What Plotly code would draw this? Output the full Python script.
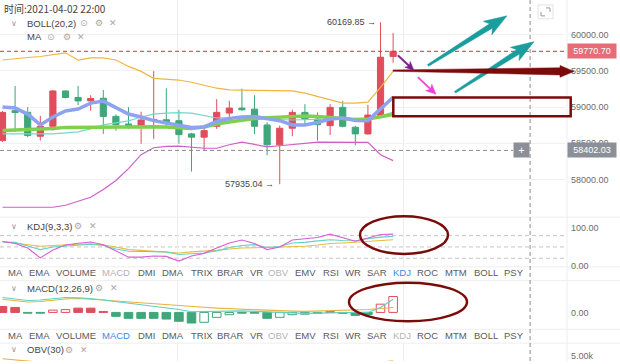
import plotly.graph_objects as go

W, H = 620, 364
PLOT_W = 565

# ---------------- data ----------------
idx = list(range(32))
open_ = [58538, 58950, 58927, 58598, 58735, 59223, 59133, 59086, 59123, 58872,
         58767, 58730, 58815, 58826, 58812, 58630, 58585, 58735, 58918, 58986,
         58972, 58753, 58479, 58708, 58927, 58835, 58744, 58996, 58722, 58630,
         58881, 59700]
high = [58945, 59292, 59000, 58881, 59235, 59230, 59292, 59164, 59237, 58900,
        59000, 58936, 59497, 59260, 58963, 58645, 58722, 59110, 59086, 59256,
        59164, 58790, 58744, 58963, 59041, 58927, 59041, 59086, 58740, 59031,
        60169.85, 60023]
low = [58520, 58657, 58585, 58538, 58675, 59120, 59027, 58949, 58630, 58675,
       58700, 58493, 58561, 58722, 58493, 58109, 58401, 58699, 58790, 58949,
       58630, 58333, 57935.04, 58598, 58744, 58538, 58616, 58720, 58470, 58620,
       58870, 59612]
close = [58927, 58925, 58607, 58735, 59223, 59133, 59086, 59119, 58872, 58757,
         58730, 58822, 58828, 58790, 58620, 58585, 58675, 58927, 58986, 58963,
         58735, 58479, 58708, 58927, 58835, 58757, 58996, 58735, 58630, 58890,
         59689, 59770.70]

boll_up = [59651, 59672, 59685, 59699, 59726, 59750, 59648, 59681, 59681, 59651,
           59562, 59494, 59398, 59384, 59374, 59343, 59302, 59261, 59237, 59233,
           59233, 59226, 59226, 59224, 59192, 59144, 59103, 59055, 59055, 59069,
           59274, 59494]
boll_mid = [58630, 58630, 58630, 58630, 58630, 58644, 58658, 58699, 58754, 58781,
            58809, 58863, 58904, 58918, 58925, 58918, 58884, 58850, 58850, 58857,
            58850, 58836, 58829, 58822, 58829, 58836, 58836, 58836, 58829, 58829,
            58877, 58932]
boll_low = [57617, 57617, 57617, 57617, 57617, 57644, 57699, 57754, 57863, 57987,
            58151, 58343, 58439, 58459, 58462, 58448, 58432, 58432, 58480, 58517,
            58487, 58452, 58466, 58487, 58500, 58517, 58517, 58517, 58517, 58514,
            58343, 58261]
ma_fast = [59000, 58987, 58904, 58754, 58863, 58946, 58973, 59055, 59083, 59000,
           58904, 58863, 58813, 58781, 58754, 58720, 58726, 58802, 58843, 58863,
           58870, 58843, 58813, 58754, 58754, 58788, 58836, 58850, 58816, 58813,
           58973, 59137]
ma_slow = [58678, 58685, 58692, 58692, 58706, 58720, 58722, 58726, 58733, 58733,
           58733, 58733, 58729, 58726, 58720, 58706, 58726, 58767, 58795, 58822,
           58843, 58854, 58863, 58877, 58877, 58870, 58859, 58843, 58829, 58836,
           58863, 58898]

kdj_k = [63, 62, 52.6, 43, 50, 52, 54, 57, 54, 44.7, 38.7, 38.7, 38.7, 36.8, 30, 33,
         34, 39.5, 48.7, 54, 56, 48.7, 51, 60.5, 62, 66, 69, 67, 66.6, 72, 76, 78]
kdj_d = [64.5, 60.5, 56.6, 52, 54, 56, 57, 58, 55, 50, 43, 41, 38, 35.5, 34, 36.8,
         38.7, 41, 44.7, 47.4, 48, 48.7, 49, 50.5, 52, 55, 59, 60.5, 63, 64.5, 67, 69]
kdj_j = [64.5, 59, 47, 21, 42, 55, 60, 63, 56, 39.5, 23, 23, 26, 25, 12.4, 26,
         33, 47, 60.5, 68.4, 59, 43, 50, 68.4, 71, 75, 84, 73.7, 65, 73.7, 83, 84]

macd_hist = [60, 50, -8, -8, 23, 28, 43, 43, 8, -40, -60, -60, -60, -67, -90, -107,
             -100, -50, -23, -8, -8, -60, -50, -23, -18, -8, 7, -10, -30, -20, 83, 160]
macd_filled = [1, 1, 1, 1, 0, 0, 1, 1, 1, 1, 1, 1, 1, 1, 1, 1,
               0, 0, 0, 1, 1, 1, 0, 0, 0, 1, 1, 1, 1, 1, 0, 0]
macd_dif = [150, 135, 120, 125, 140, 150, 147, 140, 125, 110, 95, 80, 65, 50, 30, 7,
            10, 15, 17, 15, 10, 7, 0, -5, -10, -10, -5, -2, 0, 0, 50, 133]
macd_dea = [133, 120, 105, 110, 125, 135, 140, 135, 125, 115, 105, 100, 90, 80, 70, 60,
            52, 43, 37, 32, 27, 22, 17, 13, 10, 13, 15, 17, 20, 30, 40, 50]

obv = [3650, 3150, 2450, 1900, 2200, 2000, 1800, 1900, 1500, 1300, 1200, 1400, 1300,
       1100, 900, 700, 900, 1300, 1500, 1400, 1200, 900, 1100, 1400, 1300, 1200, 1400,
       1200, 1000, 1300, 1900, 2600]

price_ticks = [58000, 58500, 59000, 59500, 60000]
last_price = 59770.70
cross_price = 58402.03
cross_idx = 41.87
grid_idx = [13.85, 31.79]
high_idx, low_idx = 30, 22

tabs = ["MA", "EMA", "VOLUME", "MACD", "DMI", "DMA", "TRIX", "BRAR", "VR", "OBV",
        "EMV", "RSI", "WR", "SAR", "KDJ", "ROC", "MTM", "BOLL", "PSY"]
tab_x = [15, 39.5, 76, 116, 146.5, 173, 201.5, 230.5, 256.5, 278.5,
         305, 331, 352.5, 376.5, 401.5, 427.5, 456, 486, 513.5]

# ---------------- colours ----------------
RED = "#e04d5c"
GREEN = "#3fa77a"
MAROON = "#7b0b0b"
TEAL_ARROW = "#1a9d9d"
FONT = "Liberation Sans, Arial, sans-serif"


def P(x, y):
    return x / PLOT_W, 1 - y / H


fig = go.Figure()

# price pane
fig.add_trace(go.Candlestick(
    x=idx, open=open_, high=high, low=low, close=close,
    increasing=dict(line=dict(color=RED, width=1), fillcolor=RED),
    decreasing=dict(line=dict(color=GREEN, width=1), fillcolor=GREEN),
    whiskerwidth=0, xaxis="x", yaxis="y", showlegend=False, hoverinfo="skip"))
for ys, col, w in [(boll_up, "#f0b540", 1.2), (boll_low, "#d25ec8", 1.2),
                   (boll_mid, "#72d8cb", 1.2), (ma_slow, "#7fd04c", 3.5),
                   (ma_fast, "#8ea3ef", 3.5)]:
    fig.add_trace(go.Scatter(x=idx, y=ys, mode="lines", line=dict(color=col, width=w),
                             xaxis="x", yaxis="y", showlegend=False, hoverinfo="skip"))

# KDJ pane
for ys, col in [(kdj_d, "#e9bb3e"), (kdj_k, "#62d3c6"), (kdj_j, "#d95fd3")]:
    fig.add_trace(go.Scatter(x=idx, y=ys, mode="lines", line=dict(color=col, width=1.1),
                             xaxis="x2", yaxis="y2", showlegend=False, hoverinfo="skip"))

# MACD pane
bar_line = [RED if v >= 0 else GREEN for v in macd_hist]
bar_fill = [(RED if v >= 0 else GREEN) if f else "rgba(255,255,255,1)"
            for v, f in zip(macd_hist, macd_filled)]
fig.add_trace(go.Bar(x=idx, y=macd_hist, width=0.68,
                     marker=dict(color=bar_fill, line=dict(color=bar_line, width=1)),
                     xaxis="x3", yaxis="y3", showlegend=False, hoverinfo="skip"))
fig.add_trace(go.Scatter(x=idx, y=macd_dea, mode="lines", line=dict(color="#eab13c", width=1.1),
                         xaxis="x3", yaxis="y3", showlegend=False, hoverinfo="skip"))
fig.add_trace(go.Scatter(x=idx, y=macd_dif, mode="lines", line=dict(color="#5fd0c4", width=1.1),
                         xaxis="x3", yaxis="y3", showlegend=False, hoverinfo="skip"))

# OBV pane
fig.add_trace(go.Scatter(x=idx, y=obv, mode="lines", line=dict(color="#eab13c", width=1.1),
                         xaxis="x4", yaxis="y4", showlegend=False, hoverinfo="skip"))

# ---------------- axes ----------------
x0, x1 = -0.198, 44.64
xcommon = dict(range=[x0, x1], showticklabels=False, tickvals=grid_idx, showgrid=True,
               gridcolor="#ededed", gridwidth=1, zeroline=False, showline=False,
               ticks="", fixedrange=True)
ycommon = dict(side="right", showline=False, zeroline=False, ticks="",
               tickfont=dict(family=FONT, size=9, color="#6b6b6b"),
               ticklabelstandoff=5, fixedrange=True)

layout_axes = dict(
    xaxis=dict(**xcommon, domain=[0, 1], anchor="y", rangeslider=dict(visible=False)),
    xaxis2=dict(**xcommon, domain=[0, 1], anchor="y2", matches="x"),
    xaxis3=dict(**xcommon, domain=[0, 1], anchor="y3", matches="x"),
    xaxis4=dict(**xcommon, domain=[0, 1], anchor="y4", matches="x"),
    yaxis=dict(**ycommon, domain=[1 - 219 / H, 1], range=[57479.4, 60479.5],
               tickvals=price_ticks, ticktext=[f"{v:.2f}" for v in price_ticks],
               showgrid=True, gridcolor="#f1f1f1", anchor="x"),
    yaxis2=dict(**ycommon, domain=[1 - 270 / H, 1 - 219 / H], range=[-5.26, 128.9],
                tickvals=[0, 100], ticktext=["0.00", "100.00"], showgrid=False, anchor="x2"),
    yaxis3=dict(**ycommon, domain=[1 - 332 / H, 1 - 283 / H], range=[-170, 320],
                tickvals=[0], ticktext=["0.00"], showgrid=False, anchor="x3"),
    yaxis4=dict(**ycommon, domain=[0, 1 - 346 / H], range=[2500, 11500],
                tickvals=[5000], ticktext=["5.00k"], showgrid=False, anchor="x4"),
)

shapes = []
annotations = []

# separators
for yy in [219, 269, 283, 332, 346]:
    a = P(0, yy)
    shapes.append(dict(type="line", xref="paper", yref="paper", x0=0, x1=W / PLOT_W,
                       y0=a[1], y1=a[1], line=dict(color="#eeeeee", width=1), layer="below"))
shapes.append(dict(type="line", xref="paper", yref="paper", x0=567 / PLOT_W, x1=567 / PLOT_W,
                   y0=0, y1=1, line=dict(color="#eeeeee", width=1), layer="below"))

# KDJ dashed levels
for lv in [20, 50, 80]:
    shapes.append(dict(type="line", xref="paper", yref="y2", x0=0, x1=567 / PLOT_W, y0=lv, y1=lv,
                       line=dict(color="#c4c4c4", width=1, dash="4px,3px"), layer="below"))

# last price line
shapes.append(dict(type="line", xref="paper", yref="y", x0=0, x1=1, y0=last_price, y1=last_price,
                   line=dict(color="#c23a3a", width=1, dash="4px,3px")))
# crosshair
shapes.append(dict(type="line", xref="paper", yref="y", x0=0, x1=513 / PLOT_W,
                   y0=cross_price, y1=cross_price,
                   line=dict(color="#8a8a8a", width=1, dash="4px,3px")))
shapes.append(dict(type="line", xref="x", yref="paper", x0=cross_idx, x1=cross_idx, y0=0, y1=1,
                   line=dict(color="#8a8a8a", width=1, dash="4px,3px")))


def poly(points, color):
    pts = [P(x, y) for x, y in points]
    d = "M " + " L ".join(f"{a:.5f},{b:.5f}" for a, b in pts) + " Z"
    return dict(type="path", xref="paper", yref="paper", path=d,
                fillcolor=color, line=dict(color=color, width=0.5))


def arrow(tail, tip, w_tail, w_neck, head_len, head_half, barb, color):
    dx, dy = tip[0] - tail[0], tip[1] - tail[1]
    L = (dx * dx + dy * dy) ** 0.5
    ux, uy = dx / L, dy / L
    nx, ny = -uy, ux
    nkx, nky = tip[0] - ux * head_len, tip[1] - uy * head_len
    bx, by = nkx - ux * barb, nky - uy * barb
    pts = [
        (tail[0] + nx * w_tail, tail[1] + ny * w_tail),
        (nkx + nx * w_neck, nky + ny * w_neck),
        (bx + nx * head_half, by + ny * head_half),
        tip,
        (bx - nx * head_half, by - ny * head_half),
        (nkx - nx * w_neck, nky - ny * w_neck),
        (tail[0] - nx * w_tail, tail[1] - ny * w_tail),
    ]
    return poly(pts, color)


shapes.append(arrow((428, 66), (507, 16), 1.0, 2.6, 19, 8, 4, TEAL_ARROW))
shapes.append(arrow((455, 93), (534, 42), 1.0, 2.6, 19, 8, 4, TEAL_ARROW))
shapes.append(arrow((393, 71.2), (574, 72), 0.7, 3.6, 14, 6, 0, MAROON))
shapes.append(arrow((398, 56), (414, 71), 0.8, 0.8, 7, 4, 2, "#7d1a8c"))
shapes.append(arrow((418, 78), (436, 95), 0.7, 0.7, 8, 4.5, 2, "#f23fdc"))

r0, r1 = P(393.3, 98.3), P(570.7, 117.3)
shapes.append(dict(type="rect", xref="paper", yref="paper", x0=r0[0], x1=r1[0], y0=r1[1], y1=r0[1],
                   line=dict(color=MAROON, width=2.5)))
for (ex0, ey0, ex1, ey1) in [(360, 218, 448, 256), (349, 285, 467, 324)]:
    a, b = P(ex0, ey0), P(ex1, ey1)
    shapes.append(dict(type="circle", xref="paper", yref="paper", x0=a[0], x1=b[0], y0=b[1], y1=a[1],
                       line=dict(color=MAROON, width=2.5)))

# expand icon
a, b = P(538, 5), P(553, 19)
shapes.append(dict(type="rect", xref="paper", yref="paper", x0=a[0], x1=b[0], y0=b[1], y1=a[1],
                   line=dict(color="#e2e2e2", width=1), fillcolor="white"))
for pts in [[(546, 8), (550, 8), (550, 12)], [(541, 12), (541, 16), (545, 16)]]:
    q = [P(x, y) for x, y in pts]
    d = "M " + " L ".join(f"{x:.5f},{y:.5f}" for x, y in q)
    shapes.append(dict(type="path", xref="paper", yref="paper", path=d,
                       line=dict(color="#9a9a9a", width=1)))


def txt(x, y, s, size=9, color="#555555", anchor="left", family=FONT, **kw):
    px_, py_ = P(x, y)
    annotations.append(dict(x=px_, y=py_, xref="paper", yref="paper", text=s, showarrow=False,
                            xanchor=anchor, yanchor="middle",
                            font=dict(family=family, size=size, color=color), **kw))


# header texts
txt(2, 8.5, "时间:2021-04-02 22:00", size=10, color="#444444",
    family="Noto Sans CJK SC, sans-serif")
for (yy, label, icons) in [(23.5, "BOLL(20,2)", [(84, "⊙"), (99, "⚙"), (113, "✕")]),
                           (228, "KDJ(9,3,3)", [(78, "⚙"), (93, "✕")]),
                           (290.5, "MACD(12,26,9)", [(99, "⚙"), (114, "✕")]),
                           (352.5, "OBV(30)", [(69, "⚙"), (84, "✕")])]:
    txt(14, yy, "∨", size=8, color="#999999", anchor="center")
    txt(25, yy, label, size=9.5, color="#444444")
    for ix, ic in icons:
        txt(ix, yy, ic, size=9, color="#a8a8a8", anchor="center",
            family="DejaVu Sans, sans-serif")
txt(25, 37, "MA", size=9.5, color="#444444")
for ix, ic in [(51, "⊙"), (67, "⚙"), (81, "✕")]:
    txt(ix, 37, ic, size=9, color="#a8a8a8", anchor="center", family="DejaVu Sans, sans-serif")

# tab rows
for row_y, active, dim in [(275, "KDJ", ["MACD", "OBV"]), (338, "MACD", ["OBV", "KDJ"])]:
    for t, tx in zip(tabs, tab_x):
        col = "#3d8ae0" if t == active else ("#b4b4b4" if t in dim else "#5a5a5a")
        txt(tx, row_y, t, size=9.5, color=col, anchor="center")

# high / low labels
annotations.append(dict(x=high_idx, y=high[high_idx], xref="x", yref="y", text=f"{high[high_idx]:.2f} →",
                        showarrow=False, xanchor="right", yanchor="middle", xshift=-3,
                        font=dict(family=FONT, size=9, color="#444444")))
annotations.append(dict(x=low_idx, y=low[low_idx], xref="x", yref="y", text=f"{low[low_idx]:.2f} →",
                        showarrow=False, xanchor="right", yanchor="middle", xshift=-4,
                        font=dict(family=FONT, size=9, color="#444444")))

# price tags on axis
annotations.append(dict(x=567 / PLOT_W, y=last_price, xref="paper", yref="y", text=f"{last_price:.2f}",
                        showarrow=False, xanchor="left", yanchor="middle", bgcolor="#e46d77",
                        width=46, height=12, borderpad=1,
                        font=dict(family=FONT, size=9, color="#ffffff")))
annotations.append(dict(x=567 / PLOT_W, y=cross_price, xref="paper", yref="y", text=f"{cross_price:.2f}",
                        showarrow=False, xanchor="left", yanchor="middle", bgcolor="#8b9098",
                        width=46, height=12, borderpad=1,
                        font=dict(family=FONT, size=9, color="#ffffff")))
annotations.append(dict(x=513 / PLOT_W, y=cross_price, xref="paper", yref="y", text="+",
                        showarrow=False, xanchor="left", yanchor="middle", bgcolor="#8b9098",
                        width=13, height=12, borderpad=1,
                        font=dict(family=FONT, size=11, color="#ffffff")))

fig.update_layout(
    width=W, height=H, margin=dict(l=0, r=W - PLOT_W, t=0, b=0),
    paper_bgcolor="white", plot_bgcolor="white",
    showlegend=False, hovermode=False, bargap=0.3,
    shapes=shapes, annotations=annotations,
    **layout_axes,
)

fig.write_html("out.html", config={"displayModeBar": False, "staticPlot": True},
               post_script="document.body.style.margin='0px';document.body.style.padding='0px';"
                           "document.body.style.overflow='hidden';")
